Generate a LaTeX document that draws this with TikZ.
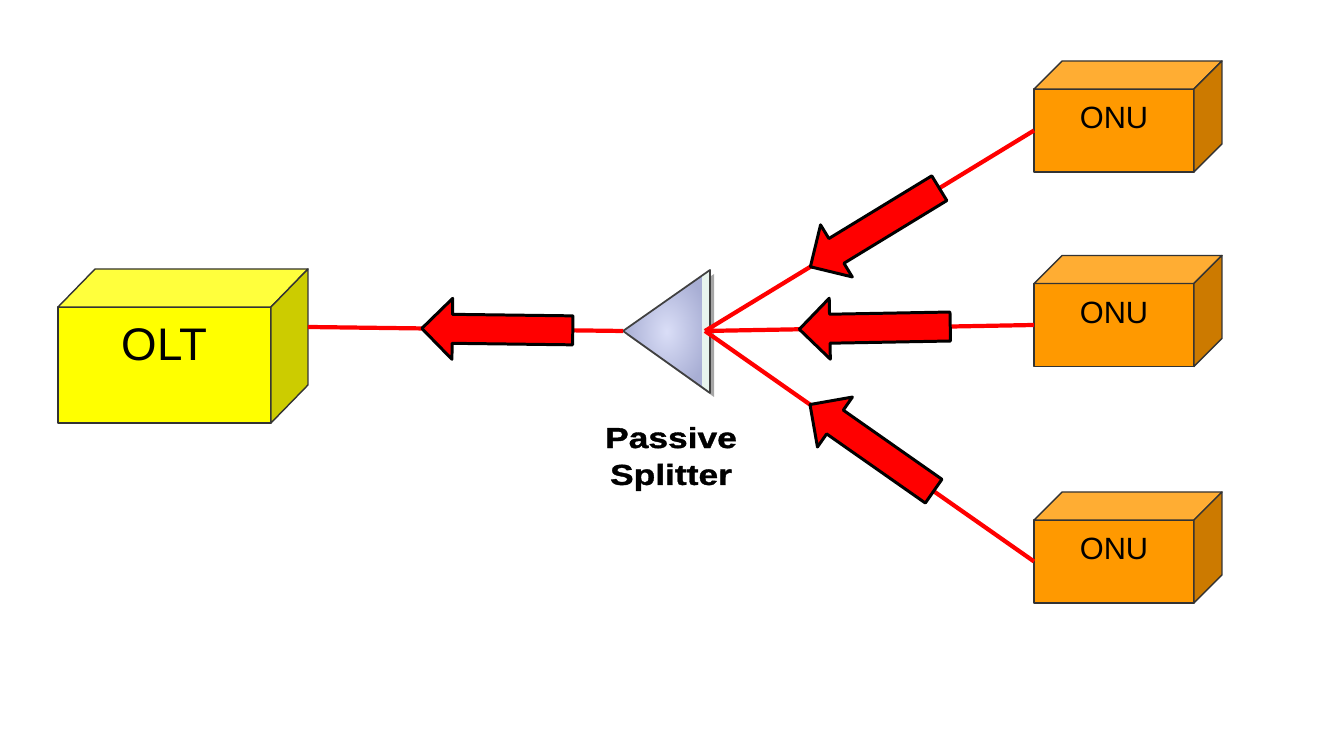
\documentclass[tikz,border=0pt]{standalone}
\usepackage{fontspec}
\setmainfont{Liberation Sans}
\newfontfamily\splitfont[FakeStretch=1.22, BoldFeatures={FakeBold=1.2}]{Liberation Sans}
\usetikzlibrary{shapes.arrows}
\definecolor{oltfront}{HTML}{FFFF00}
\definecolor{olttop}{HTML}{FFFF3C}
\definecolor{oltside}{HTML}{CCCC00}
\definecolor{onufront}{HTML}{FF9900}
\definecolor{onutop}{HTML}{FFAD33}
\definecolor{onuside}{HTML}{CC7A00}
\definecolor{splitin}{HTML}{DADEF7}
\definecolor{splitout}{HTML}{A8AED4}
\definecolor{splitedge}{HTML}{E8F4EE}
\tikzset{
  box/.style={draw=black!80, line width=0.8pt, line join=round, outer sep=0pt, inner sep=0pt},
  olt/.style={box, fill=oltfront, minimum width=4.26cm, minimum height=2.32cm},
  onu/.style={box, fill=onufront, minimum width=3.2cm, minimum height=1.66cm},
  olttext/.style={font=\fontsize{26}{30}\selectfont},
  onutext/.style={font=\fontsize{17.5}{21}\selectfont},
  splittext/.style={font=\splitfont\bfseries\fontsize{16.5}{21}\selectfont, align=center},
  fiber/.style={red, line width=2.4pt},
  uparrow/.style={single arrow, draw=black, fill=red, line width=1.7pt, line join=round,
    inner xsep=0pt, inner ysep=0.26cm, minimum height=3.02cm, minimum width=1.16cm,
    single arrow head extend=0.32cm, sloped, allow upside down}
}

\begin{document}
\begin{tikzpicture}[x=0.02cm, y=0.02cm]
\useasboundingbox (0,0) rectangle (1339,739);
% splitter
\coordinate (split-in) at (623,408);
\coordinate (split-out) at (705,408);
\fill[black!35] (627,404) -- (714,465) -- (714,342) -- cycle;
\shade[inner color=splitin, outer color=splitout] (623,408) -- (710,469) -- (710,346) -- cycle;
\fill[splitedge] (702,463.4) -- (710,469) -- (710,346) -- (702,352.6) -- cycle;
\draw[black!75, line width=1pt, line join=round] (623,408) -- (710,469) -- (710,346) -- cycle;
\node[splittext] (split-lbl) at (671,280) {Passive\\Splitter};
% OLT
\node[olt] (olt) at (164.5,374) {};
\filldraw[box, fill=olttop] (olt.north west) -- ++(37,38) -- ([shift={(37,38)}]olt.north east) -- (olt.north east) -- cycle;
\filldraw[box, fill=oltside] (olt.north east) -- ++(37,38) -- ([shift={(37,38)}]olt.south east) -- (olt.south east) -- cycle;
\node[olttext] (olt-lbl) at ([yshift=0.4cm]olt.center) {OLT};
\coordinate (olt-back) at ([shift={(37,38)}]olt.east);
% ONUs
\foreach \n/\y in {onu1/608.5, onu2/414, onu3/177.5} {
  \node[onu] (\n) at (1114,\y) {};
  \filldraw[box, fill=onutop] (\n.north west) -- ++(28,28) -- ([shift={(28,28)}]\n.north east) -- (\n.north east) -- cycle;
  \filldraw[box, fill=onuside] (\n.north east) -- ++(28,28) -- ([shift={(28,28)}]\n.south east) -- (\n.south east) -- cycle;
  \node[onutext] (\n-lbl) at ([yshift=0.25cm]\n.center) {ONU};
}
% fibers with upstream arrows
\draw[fiber] (split-in) -- node[uparrow, pos=0.376] (up0) {} (olt-back);
\draw[fiber] (onu1.west) -- node[uparrow, pos=0.465] (up1) {} (split-out);
\draw[fiber] (onu2.west) -- node[uparrow, pos=0.462] (up2) {} (split-out);
\draw[fiber] (onu3.west) -- node[uparrow, pos=0.475] (up3) {} (split-out);
\end{tikzpicture}
\end{document}
